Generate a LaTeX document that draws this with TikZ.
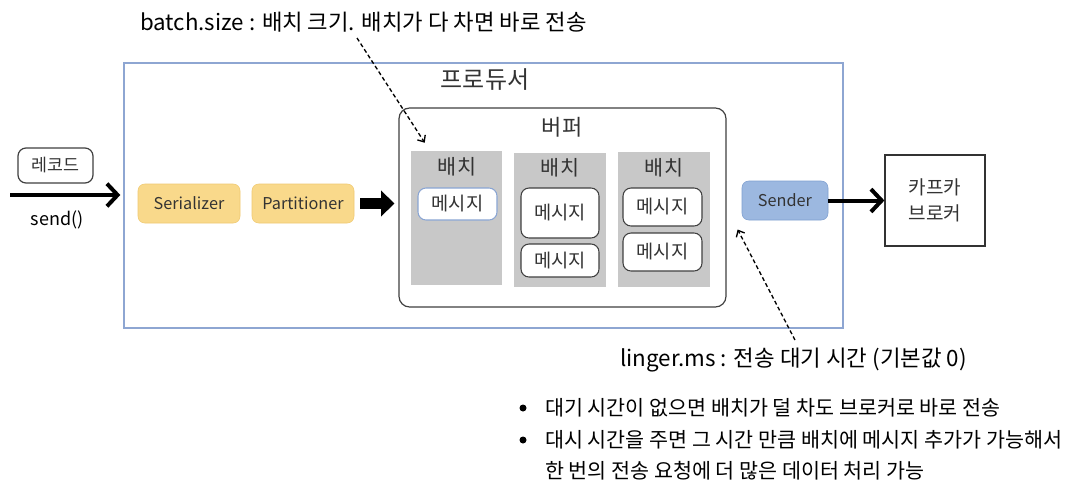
\documentclass[tikz,border=0pt]{standalone}
\usepackage{fontspec}
\setmainfont{Noto Sans CJK KR}
\usetikzlibrary{arrows.meta,calc}
\definecolor{prodblue}{HTML}{8EA6D2}
\definecolor{serfill}{HTML}{F9D98B}
\definecolor{serdraw}{HTML}{F0C972}
\definecolor{sendfill}{HTML}{9CB8E0}
\definecolor{senddraw}{HTML}{7E9FCF}
\definecolor{batchgray}{HTML}{C8C8C8}
\definecolor{msgblue}{HTML}{8AA5D3}
\definecolor{boxtext}{HTML}{333333}
\def\u{0.75pt}
\begin{document}
\begin{tikzpicture}[x=0.75pt,y=-0.75pt,
  hand/.style={font=\fontsize{15.5}{18}\selectfont, inner sep=0pt, anchor=west},
  msg/.style={draw=black!75, fill=white, rounded corners=6pt, minimum width=79*\u, text=boxtext, font=\fontsize{14}{16}\selectfont, inner sep=0pt, line width=0.8pt},
  batchbox/.style={fill=batchgray, draw=none, inner sep=0pt},
  batchlbl/.style={font=\fontsize{15.5}{18}\selectfont, text=boxtext, inner sep=0pt},
  comp/.style={rounded corners=5pt, minimum width=102*\u, minimum height=39*\u, inner sep=0pt, text=boxtext, font=\fontsize{12.2}{14}\selectfont},
  thickarrow/.style={line width=3pt, -{Straight Barb[length=8pt,width=17pt,line width=3pt]}},
  blockarrow/.style={line width=8pt, -{Triangle[length=10pt,width=19pt]}},
  dasharrow/.style={line width=1pt, dashed, dash pattern=on 3pt off 2pt, -{Straight Barb[length=4pt,width=7pt,line width=1pt]}}
]
\useasboundingbox (0,0) rectangle (1086,493);
\fill[white] (0,0) rectangle (1086,493);

% producer
\node[draw=prodblue, line width=1pt, minimum width=719*\u, minimum height=265*\u, inner sep=0pt] (prod) at (483.5,195.5) {};
\node[font=\fontsize{18}{20}\selectfont, text=boxtext] (prodlbl) at (485,80) {프로듀서};

% buffer
\node[draw=black!75, line width=0.9pt, rounded corners=8pt, minimum width=327*\u, minimum height=199*\u, inner sep=0pt] (buffer) at (562.5,207.5) {};
\node[font=\fontsize{16.5}{18}\selectfont, text=boxtext] (buflbl) at (562,127) {버퍼};

% batches
\node[batchbox, minimum width=91*\u, minimum height=134*\u] (b1) at (456.5,218) {};
\node[batchbox, minimum width=92*\u, minimum height=134*\u] (b2) at (560,220) {};
\node[batchbox, minimum width=92*\u, minimum height=135*\u] (b3) at (664,219.5) {};
\node[batchlbl] (b1l) at (457,167) {배치};
\node[batchlbl] (b2l) at (560,168) {배치};
\node[batchlbl] (b3l) at (664,168) {배치};

% messages
\node[msg, draw=msgblue, minimum height=32*\u] (m1) at (457.5,204) {메시지};
\node[msg, minimum width=78*\u, minimum height=50*\u] (m2a) at (560,213) {메시지};
\node[msg, minimum width=78*\u, minimum height=33*\u] (m2b) at (560,260.5) {메시지};
\node[msg, minimum height=38*\u] (m3a) at (662.5,207) {메시지};
\node[msg, minimum height=38*\u] (m3b) at (662.5,252) {메시지};

% record
\node[draw=black!75, line width=0.9pt, rounded corners=6pt, minimum width=75*\u, minimum height=35*\u, inner sep=0pt, text=boxtext, font=\fontsize{13}{15}\selectfont] (rec) at (55.5,165.5) {레코드};
\node[font=\fontsize{13.5}{15}\selectfont, inner sep=0pt] (send) at (57,220) {send()};
\coordinate (in) at (10,195);
\draw[thickarrow, shorten >=3*\u] (in) -- (prod.west |- in);

% components
\node[comp, fill=serfill, draw=serdraw] (ser) at (189,203.5) {Serializer};
\node[comp, fill=serfill, draw=serdraw] (part) at (303,203.5) {Partitioner};
\draw[blockarrow, shorten <=6*\u, shorten >=4*\u] (part.east) -- (buffer.west |- part.east);

\node[comp, fill=sendfill, draw=senddraw, minimum width=86*\u] (sender) at (785,200.5) {Sender};
\node[draw=black!80, line width=0.9pt, minimum width=100*\u, minimum height=91*\u, inner sep=0pt, text=boxtext, font=\fontsize{14.3}{20}\selectfont, align=center] (kafka) at (935,200.5) {카프카\\브로커};
\draw[thickarrow] (sender) -- (kafka);

% annotations
\node[hand, font=\fontsize{16.7}{19}\selectfont] (bs) at (140,22) {batch.size : 배치 크기. 배치가 다 차면 바로 전송};
\coordinate (bsA) at (357,38);
\coordinate (bsB) at ($(b1.north west)+(14,-8)$);
\draw[dasharrow] (bsA) -- (bsB);

\node[hand, font=\fontsize{16.8}{19}\selectfont] (lg) at (620,360) {linger.ms : 전송 대기 시간 (기본값 0)};
\coordinate (lgA) at (795,340);
\coordinate (lgB) at ($(buffer.east)+(11,22)$);
\draw[dasharrow] (lgA) -- (lgB);

\fill (523,408) circle (3.5*\u);
\fill (523,440) circle (3.5*\u);
\node[hand] (t1) at (545,408) {대기 시간이 없으면 배치가 덜 차도 브로커로 바로 전송};
\node[hand] (t2) at (545,440) {대시 시간을 주면 그 시간 만큼 배치에 메시지 추가가 가능해서};
\node[hand] (t3) at (545,471) {한 번의 전송 요청에 더 많은 데이터 처리 가능};
\end{tikzpicture}
\end{document}
